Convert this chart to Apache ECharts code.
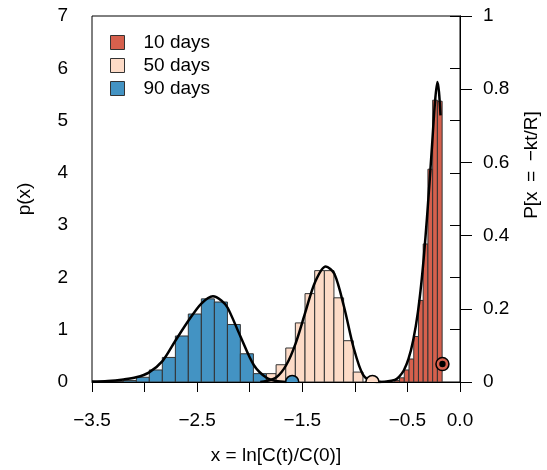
<!DOCTYPE html>
<html><head><meta charset="utf-8">
<script src="https://cdn.jsdelivr.net/npm/echarts@6/dist/echarts.min.js"></script>
<style>html,body{margin:0;padding:0;background:#fff}#c{width:547px;height:470px}</style>
</head><body><div id="c"></div>
<script>
// ---- data ----
const seriesNames = ['10 days', '50 days', '90 days'];
const seriesColors = ['#D6604D', '#FDDBC7', '#4393C3'];

const xTicks = [-3.5, -3, -2.5, -2, -1.5, -1, -0.5, 0];
const xTickLabels = ['\u22123.5', '', '\u22122.5', '', '\u22121.5', '', '\u22120.5', '0.0'];
const leftTickLabels = ['0', '1', '2', '3', '4', '5', '6', '7'];
const rightTickLabels = ['0', '0.2', '0.4', '0.6', '0.8', '1'];

// histogram bin edges and densities
const redEdges = [-0.620, -0.575, -0.530, -0.485, -0.440, -0.395, -0.350, -0.305, -0.260, -0.215, -0.170];
const redHeights = [0.03, 0.08, 0.23, 0.44, 0.87, 1.56, 2.64, 4.07, 5.39, 5.37];

const pinkEdges = [-1.841, -1.749, -1.657, -1.566, -1.474, -1.382, -1.290, -1.199, -1.107, -1.015, -0.923];
const pinkHeights = [0.16, 0.33, 0.65, 1.13, 1.69, 2.13, 2.13, 1.61, 0.79, 0.19];

const blueEdges = [-3.326, -3.202, -3.078, -2.955, -2.831, -2.707, -2.584, -2.460, -2.336, -2.212, -2.089, -1.965, -1.841];
const blueHeights = [0.01, 0.03, 0.09, 0.23, 0.47, 0.88, 1.30, 1.59, 1.53, 1.10, 0.54, 0.16];

// density curves
const blueCurveX = [-3.5, -3.35, -3.2, -3.08, -2.96, -2.83, -2.71, -2.58, -2.46, -2.35, -2.27, -2.21, -2.09, -1.96, -1.84, -1.75, -1.65];
const blueCurveY = [0.01, 0.02, 0.05, 0.09, 0.18, 0.40, 0.78, 1.18, 1.50, 1.64, 1.56, 1.42, 0.88, 0.32, 0.08, 0.02, 0.0];

const pinkCurveX = [-1.90, -1.84, -1.746, -1.651, -1.563, -1.470, -1.379, -1.277, -1.195, -1.103, -1.011, -0.923, -0.833, -0.75];
const pinkCurveY = [0.0, 0.02, 0.09, 0.33, 0.74, 1.34, 1.91, 2.21, 2.07, 1.44, 0.65, 0.14, 0.01, 0.0];

const redCurveX = [-0.80, -0.70, -0.62, -0.58, -0.535, -0.49, -0.445, -0.40, -0.355, -0.31, -0.265, -0.24, -0.215, -0.20, -0.185];
const redCurveY = [0.0, 0.01, 0.04, 0.10, 0.22, 0.44, 0.80, 1.34, 2.15, 3.25, 4.55, 5.30, 5.74, 5.55, 5.10];

// P[x = -kt/R] points (right axis)
const markerX = [-0.167, -0.833, -1.596];
const markerY = [0.049, 0.0, 0.0];

// ---- chart ----
const FONT = 'Liberation Sans, Arial, Helvetica, sans-serif';
const chart = echarts.init(document.getElementById('c'), null, { renderer: 'canvas' });

function histSeries(name, color, edges, heights, z) {
  return {
    type: 'custom', name: name, z: z, clip: true, silent: true,
    data: heights.map((h, i) => [edges[i], edges[i + 1], h]),
    encode: { x: [0, 1], y: 2 },
    itemStyle: { color: color, borderColor: '#333', borderWidth: 1 },
    renderItem: function (params, api) {
      const p0 = api.coord([api.value(0), api.value(2)]);
      const p1 = api.coord([api.value(1), 0]);
      return {
        type: 'rect',
        shape: { x: p0[0], y: p0[1], width: p1[0] - p0[0], height: p1[1] - p0[1] },
        style: { fill: color, stroke: '#333', lineWidth: 1 }
      };
    }
  };
}
function curveSeries(xs, ys) {
  return {
    type: 'line', data: xs.map((x, i) => [x, ys[i]]), showSymbol: false, smooth: 0.3,
    lineStyle: { color: '#000', width: 2.5 }, z: 5, clip: true, silent: true
  };
}

const option = {
  animation: false,
  backgroundColor: '#fff',
  grid: { left: 92, right: 87, top: 16, bottom: 86, show: true, borderColor: '#000', borderWidth: 1, backgroundColor: 'transparent' },
  legend: {
    orient: 'vertical', left: 105, top: 28, itemWidth: 14, itemHeight: 14, itemGap: 4,
    selectedMode: false,
    textStyle: { fontSize: 19, fontFamily: FONT, color: '#000', padding: [0, 0, 0, 14] },
    data: seriesNames.map((n, i) => ({ name: n, icon: 'rect', itemStyle: { color: seriesColors[i], borderColor: '#333', borderWidth: 1 } }))
  },
  xAxis: {
    type: 'value', min: -3.5, max: 0, interval: 0.5,
    axisLine: { show: true, onZero: false, lineStyle: { color: '#000', width: 1 } },
    axisTick: { show: true, length: 10, lineStyle: { color: '#000', width: 1 } },
    axisLabel: {
      color: '#000', fontSize: 19, fontFamily: FONT, margin: 29, showMinLabel: true, showMaxLabel: true,
      formatter: function (v) { const i = xTicks.findIndex(t => Math.abs(t - v) < 1e-9); return i >= 0 ? xTickLabels[i] : ''; }
    },
    splitLine: { show: false },
    name: 'x = ln[C(t)/C(0)]', nameLocation: 'middle', nameGap: 64,
    nameTextStyle: { color: '#000', fontSize: 19, fontFamily: FONT }
  },
  yAxis: [{
    type: 'value', min: 0, max: 7, interval: 1, position: 'left',
    axisLine: { show: true, lineStyle: { color: '#000', width: 1 } },
    axisTick: { show: true, length: 10, lineStyle: { color: '#000', width: 1 } },
    axisLabel: { color: '#000', fontSize: 19, fontFamily: FONT, margin: 24, showMinLabel: true, showMaxLabel: true,
      formatter: function (v) { return leftTickLabels[Math.round(v)]; } },
    splitLine: { show: false },
    name: 'p(x)', nameLocation: 'middle', nameRotate: 90, nameGap: 58,
    nameTextStyle: { color: '#000', fontSize: 19, fontFamily: FONT }
  }, {
    type: 'value', min: 0, max: 1, interval: 0.2, position: 'right',
    axisLine: { show: true, lineStyle: { color: '#000', width: 1 } },
    axisTick: { show: true, length: 12, lineStyle: { color: '#000', width: 1 } },
    axisLabel: { color: '#000', fontSize: 19, fontFamily: FONT, margin: 23, showMinLabel: true, showMaxLabel: true,
      formatter: function (v) { return rightTickLabels[Math.round(v / 0.2)]; } },
    splitLine: { show: false }
  }],
  graphic: [{
    type: 'text', x: 532, y: 165, rotation: Math.PI / 2, silent: true,
    style: { text: 'P[x\u2002=\u2002\u2212kt/R]', font: '19px ' + FONT, fill: '#000', align: 'center', verticalAlign: 'middle' }
  }],
  series: [
    histSeries(seriesNames[2], seriesColors[2], blueEdges, blueHeights, 2),
    histSeries(seriesNames[1], seriesColors[1], pinkEdges, pinkHeights, 3),
    histSeries(seriesNames[0], seriesColors[0], redEdges, redHeights, 3),
    curveSeries(blueCurveX, blueCurveY),
    curveSeries(pinkCurveX, pinkCurveY),
    curveSeries(redCurveX, redCurveY),
    {
      type: 'custom', yAxisIndex: 1, z: 10, clip: true, silent: true,
      data: markerX.map((x, i) => [x, markerY[i]]),
      encode: { x: 0, y: 1 },
      renderItem: function (params, api) {
        const p = api.coord([api.value(0), api.value(1)]);
        const children = [{
          type: 'circle', shape: { cx: p[0], cy: p[1], r: 6.5 },
          style: { fill: seriesColors[params.dataIndex], stroke: '#000', lineWidth: 1.5 }
        }];
        if (params.dataIndex === 0) {
          children.push({ type: 'circle', shape: { cx: p[0], cy: p[1], r: 3.2 }, style: { fill: '#000' } });
        }
        return { type: 'group', children: children };
      }
    }
  ]
};
chart.setOption(option);
</script>
</body></html>
